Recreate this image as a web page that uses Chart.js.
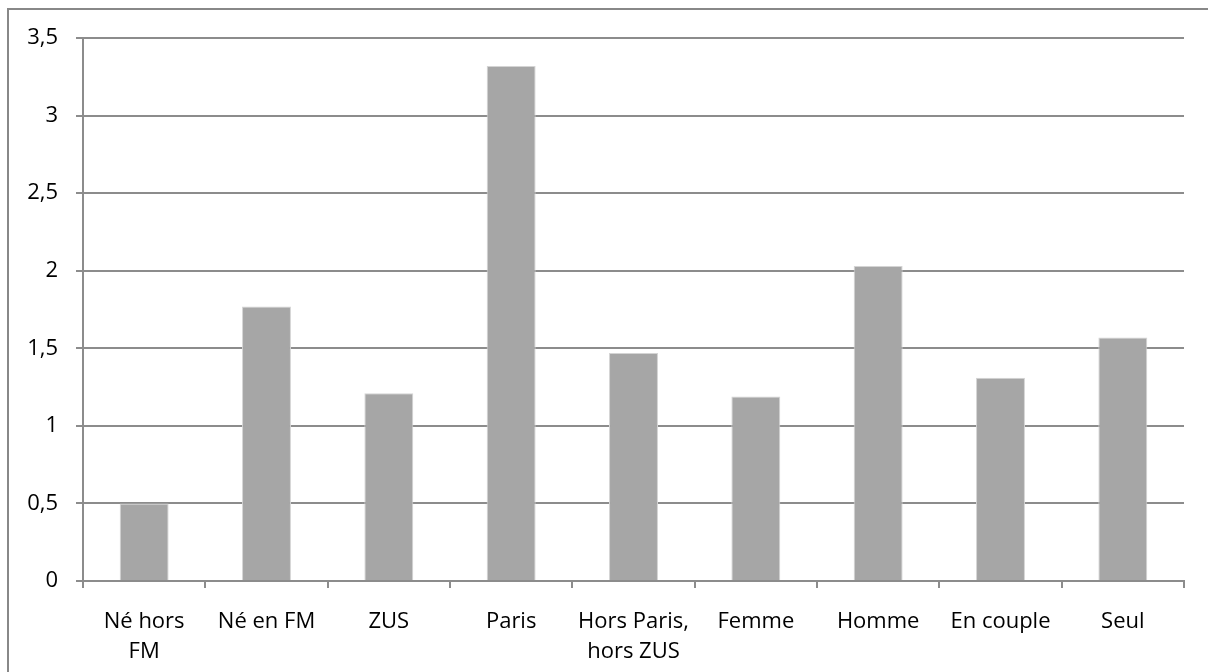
<!DOCTYPE html>
<html>
<head>
<meta charset="utf-8">
<script src="https://cdn.jsdelivr.net/npm/chart.js@4.4.1/dist/chart.umd.min.js"></script>
<style>
  html, body { margin: 0; padding: 0; background: #fff; }
  #wrap { width: 1208px; height: 672px; position: relative; overflow: hidden; }
</style>
</head>
<body>
<div id="wrap"><canvas id="barChart" width="1208" height="672"></canvas></div>
<script>
// Categories and values
const categories = [
    ['Né hors', 'FM'], 'Né en FM', 'ZUS', 'Paris', ['Hors Paris,', 'hors ZUS'],
    'Femme', 'Homme', 'En couple', 'Seul'
];
const values = [0.50, 1.77, 1.21, 3.32, 1.47, 1.19, 2.03, 1.31, 1.57];
const yTicks = [0, 0.5, 1, 1.5, 2, 2.5, 3, 3.5];

const gridColor = '#8c8c8c';

// Frame round the whole chart (its right and bottom edges fall off the page)
const framePlugin = {
    id: 'frame',
    beforeDraw(chart) {
        const ctx = chart.ctx;
        ctx.save();
        ctx.strokeStyle = '#888888';
        ctx.lineWidth = 2;
        ctx.strokeRect(8, 9, 1400, 900);
        ctx.restore();
    }
};

const ctx = document.getElementById('barChart').getContext('2d');
const barChart = new Chart(ctx, {
    type: 'bar',
    data: {
        labels: categories,
        datasets: [{
            data: values,
            backgroundColor: '#a6a6a6',
            borderColor: '#d4d4d4',
            borderWidth: 1,
            categoryPercentage: 1,
            barPercentage: 0.4
        }]
    },
    options: {
        responsive: false,
        animation: false,
        layout: { padding: { top: 38, right: 24, left: 0, bottom: 0 } },
        plugins: {
            legend: { display: false },
            tooltip: { enabled: false }
        },
        scales: {
            y: {
                min: 0,
                max: 3.5,
                afterFit(scale) { scale.width = 83; },
                afterBuildTicks(scale) { scale.ticks = yTicks.map(v => ({ value: v })); },
                ticks: {
                    padding: 18,
                    color: '#000',
                    font: { family: 'Open Sans', size: 22 },
                    callback: v => String(v).replace('.', ',')
                },
                grid: { color: gridColor, lineWidth: 2, tickLength: 7 },
                border: { color: gridColor, width: 2 }
            },
            x: {
                afterFit(scale) { scale.height = 91; },
                ticks: {
                    padding: 19,
                    color: '#000',
                    maxRotation: 0,
                    autoSkip: false,
                    font: { family: 'Open Sans', size: 22, lineHeight: 1.36 }
                },
                grid: { drawOnChartArea: false, color: gridColor, lineWidth: 2, tickLength: 7, offset: true },
                border: { color: gridColor, width: 2 }
            }
        }
    },
    plugins: [framePlugin]
});
</script>
</body>
</html>
